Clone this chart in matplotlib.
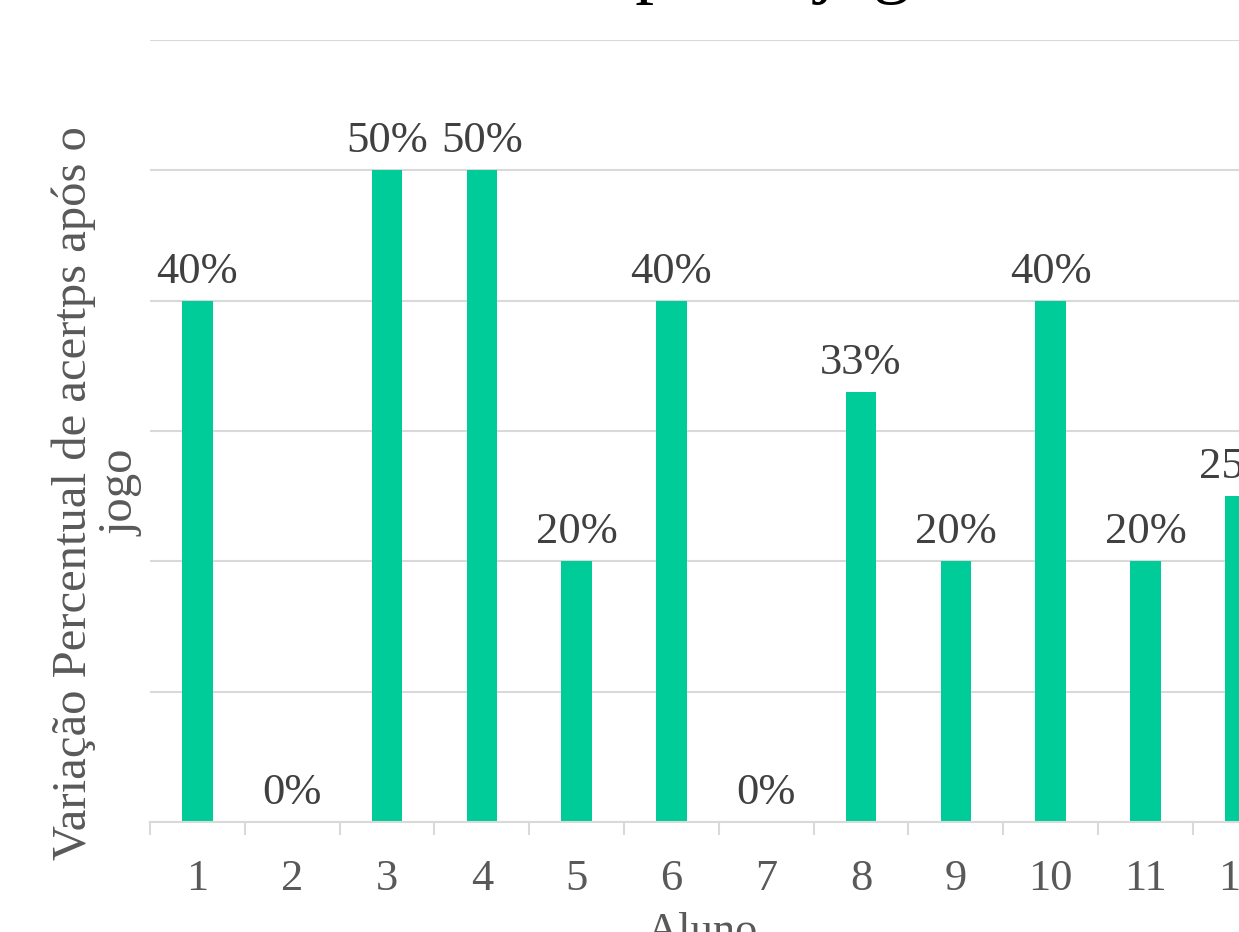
import matplotlib
matplotlib.use("Agg")
import matplotlib.pyplot as plt
import numpy as np

# data
alunos = ["1", "2", "3", "4", "5", "6", "7", "8", "9", "10", "11", "12"]
variacao = [0.40, 0.00, 0.50, 0.50, 0.20, 0.40, 0.00, 0.33, 0.20, 0.40, 0.20, 0.25]
rotulos = ["40%", "0%", "50%", "50%", "20%", "40%", "0%", "33%", "20%", "40%", "20%", "25%"]

titulo = "Variação Percentual de acertos\napós o jogo"
rotulo_y = "Variação Percentual de acertps após o\njogo"
rotulo_x = "Aluno"

plt.rcParams["font.family"] = ["Liberation Serif", "DejaVu Serif"]

W, H = 1239, 932
fig = plt.figure(figsize=(W / 100, H / 100), dpi=100)
fig.patch.set_facecolor("white")

# plot area runs past the right edge, as in the cropped original
n = len(alunos)
cat_w = 94.8
ax = fig.add_axes([150 / W, 110 / H, n * cat_w / W, 782 / H])

x = np.arange(1, n + 1)
ax.bar(x, variacao, width=0.32, color="#00CC99", zorder=3)
ax.set_xlim(0.5, n + 0.5)
ax.set_ylim(0, 0.6)

ax.set_yticks(np.arange(0, 0.61, 0.1))
ax.yaxis.grid(True, color="#d9d9d9", linewidth=1.5, zorder=0)
ax.tick_params(axis="y", left=False, labelleft=False)

# category boundary ticks + centered labels
ax.set_xticks(np.arange(0.5, n + 1, 1.0))
ax.set_xticklabels([])
ax.tick_params(axis="x", which="major", direction="out", length=9,
               width=1.5, color="#d9d9d9")
ax.set_xticks(x, minor=True)
ax.set_xticklabels(alunos, minor=True)
ax.tick_params(axis="x", which="minor", length=0, pad=27,
               labelsize=32, labelcolor="#595959")

for side in ("left", "right", "top"):
    ax.spines[side].set_visible(False)
ax.spines["bottom"].set_color("#d9d9d9")
ax.spines["bottom"].set_linewidth(1.5)
ax.spines["bottom"].set_zorder(4)

for xi, v, lab in zip(x, variacao, rotulos):
    ax.annotate(lab, (xi, v), xytext=(0, 13), textcoords="offset points",
                ha="center", va="baseline", fontsize=32, color="#404040")

# title sits mostly above the cropped top edge
fig.text(775 / W, (H - 5) / H, titulo, ha="center", va="bottom",
         multialignment="center", fontsize=54, color="#000000")
fig.text(702 / W, -11 / H, rotulo_x, ha="center", va="baseline",
         fontsize=32, color="#595959")
fig.text(97 / W, (H - 493) / H, rotulo_y, rotation=90, ha="center",
         va="center", multialignment="center", fontsize=35,
         color="#595959", linespacing=1.1)

fig.savefig("out.png", dpi=100, facecolor="white")
